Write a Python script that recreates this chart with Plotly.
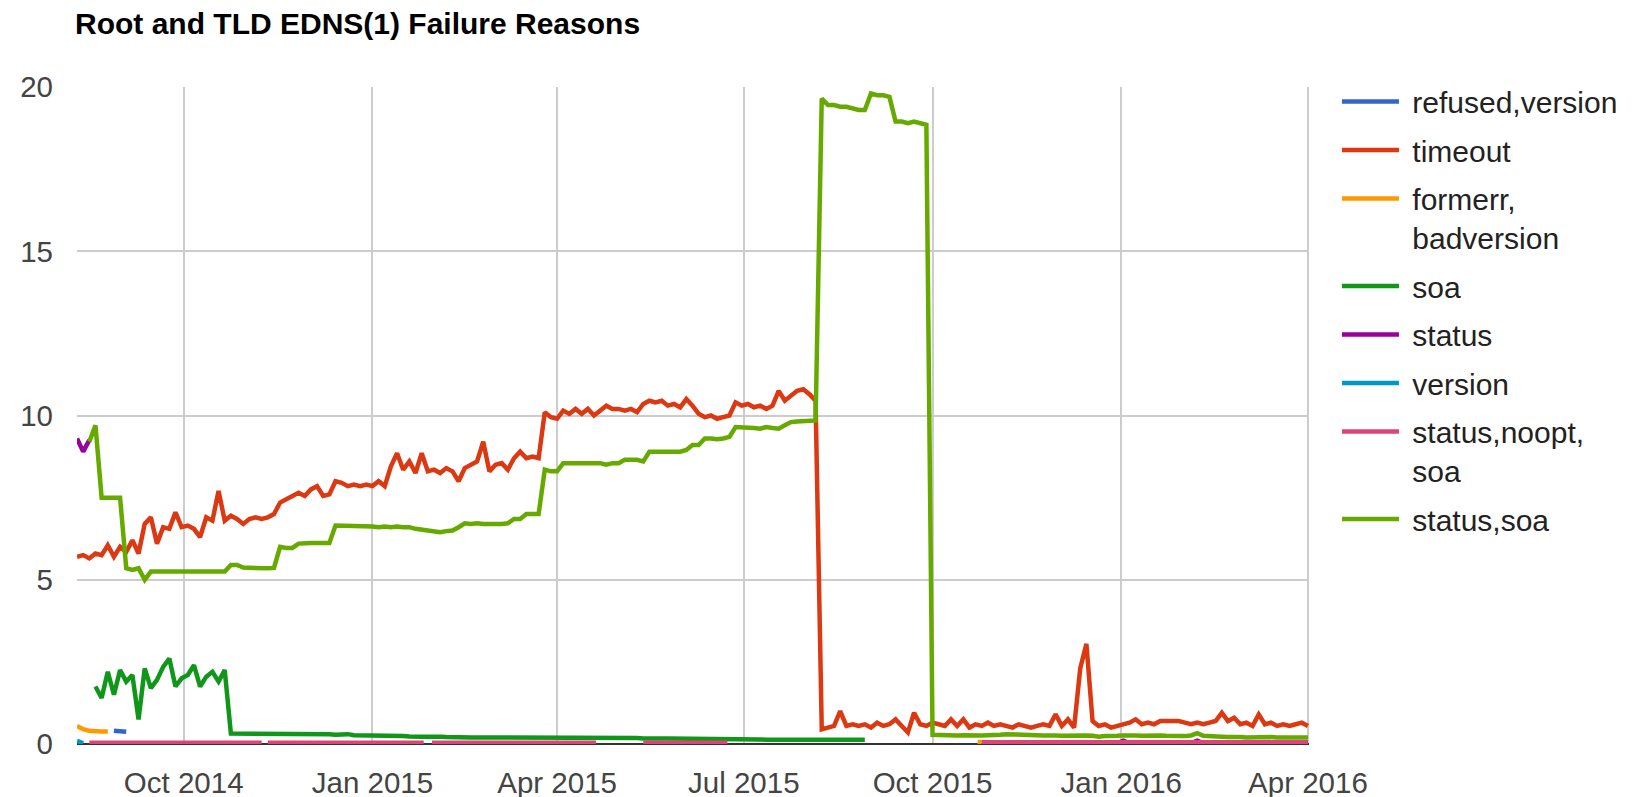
import pandas as pd
import plotly.graph_objects as go

# ---------------- data ----------------
BASE_DATE = "2014-08-10"      # first sample
STEP_DAYS = 3                 # samples every 3 days
RANGE_END = "2016-04-01 12:00"

# sample index k -> date = BASE_DATE + 3*k days
timeout_start = 0
timeout = [
    5.7, 5.75, 5.65, 5.8, 5.75, 6.05, 5.7, 6.0, 5.85, 6.2,
    5.8, 6.7, 6.9, 6.1, 6.6, 6.55, 7.05, 6.6, 6.65, 6.55,
    6.3, 6.9, 6.8, 7.7, 6.8, 6.95, 6.85, 6.7, 6.85, 6.9,
    6.85, 6.9, 7.0, 7.35, 7.45, 7.55, 7.65, 7.55, 7.75, 7.85,
    7.55, 7.6, 8.0, 7.95, 7.85, 7.9, 7.85, 7.9, 7.85, 8.0,
    7.85, 8.45, 8.85, 8.35, 8.6, 8.25, 8.85, 8.3, 8.35, 8.25,
    8.4, 8.3, 8.0, 8.4, 8.5, 8.6, 9.2, 8.3, 8.5, 8.55,
    8.35, 8.7, 8.9, 8.7, 8.75, 8.7, 10.1, 9.95, 9.9, 10.15,
    10.05, 10.2, 10.05, 10.2, 10.0, 10.15, 10.3, 10.2, 10.2, 10.15,
    10.2, 10.1, 10.35, 10.45, 10.4, 10.45, 10.3, 10.35, 10.25, 10.5,
    10.3, 10.05, 9.95, 10.0, 9.9, 9.95, 10.0, 10.4, 10.3, 10.35,
    10.25, 10.3, 10.2, 10.3, 10.75, 10.45, 10.6, 10.75, 10.8, 10.65,
    10.45, 0.45, 0.5, 0.55, 1.0, 0.55, 0.6, 0.55, 0.6, 0.5,
    0.65, 0.55, 0.6, 0.75, 0.55, 0.35, 0.95, 0.6, 0.55, 0.65,
    0.6, 0.55, 0.75, 0.55, 0.75, 0.5, 0.6, 0.55, 0.65, 0.55,
    0.6, 0.55, 0.5, 0.6, 0.55, 0.5, 0.55, 0.6, 0.55, 0.9,
    0.55, 0.75, 0.5, 2.3, 3.05, 0.7, 0.55, 0.6, 0.5, 0.55,
    0.6, 0.65, 0.75, 0.6, 0.65, 0.6, 0.7, 0.7, 0.72, 0.7,
    0.65, 0.6, 0.65, 0.6, 0.65, 0.7, 0.95, 0.7, 0.8, 0.6,
    0.65, 0.55, 0.9, 0.6, 0.65, 0.55, 0.6, 0.55, 0.6, 0.65, 0.55,
]

status_soa_start = 2
status_soa = [
    9.2, 9.7, 7.5, 7.5, 7.48, 7.5, 5.35, 5.3, 5.35, 5.0, 5.25,
    5.25, 5.24, 5.25, 5.23, 5.24, 5.25, 5.24, 5.23, 5.24, 5.22, 5.23, 5.25,
    5.45, 5.45,
    5.37, 5.36, 5.35, 5.36, 5.35, 5.36,
    6.0, 5.97, 5.97,
    6.1, 6.12, 6.12, 6.12, 6.11, 6.12,
    6.65, 6.65, 6.63, 6.65, 6.62, 6.63, 6.62, 6.6, 6.62, 6.6, 6.62, 6.6, 6.6,
    6.55, 6.52, 6.48, 6.47, 6.45, 6.48, 6.5,
    6.6, 6.72, 6.7, 6.72, 6.7, 6.7, 6.68, 6.7, 6.72,
    6.85, 6.85, 7.0, 7.0, 7.0,
    8.35, 8.3, 8.3,
    8.55, 8.55, 8.55, 8.53, 8.55, 8.52, 8.55, 8.5, 8.55, 8.55,
    8.65, 8.65, 8.65, 8.6,
    8.9, 8.9, 8.9, 8.88, 8.9, 8.9, 8.95,
    9.1, 9.1,
    9.3, 9.3, 9.28, 9.3, 9.35,
    9.65, 9.65, 9.63, 9.62, 9.6, 9.65, 9.62, 9.6,
    9.7, 9.8, 9.82, 9.82, 9.85, 9.85,
    19.65, 19.45, 19.45, 19.4, 19.4, 19.35, 19.3, 19.3,
    19.8, 19.75, 19.75, 19.7,
    18.95, 18.95, 18.9, 18.95, 18.9, 18.85,
    0.28, 0.27, 0.26, 0.27, 0.26, 0.27, 0.26, 0.25, 0.26, 0.27, 0.26, 0.28, 0.3, 0.3,
    0.28, 0.27, 0.28, 0.27, 0.26, 0.27, 0.26, 0.25, 0.26, 0.25, 0.27, 0.26, 0.25, 0.22,
    0.24, 0.26, 0.25, 0.26,
    0.27, 0.26, 0.25, 0.26, 0.25, 0.26, 0.25, 0.24, 0.25, 0.24, 0.26, 0.33, 0.25, 0.23, 0.22,
    0.22, 0.21, 0.22, 0.21, 0.2, 0.21, 0.2, 0.2, 0.21, 0.2, 0.2, 0.2, 0.21, 0.2, 0.2,
]

soa_start = 3
soa = [
    1.75, 1.4, 2.2, 1.5, 2.25, 1.9, 2.1, 0.75, 2.3, 1.7,
    1.95, 2.35, 2.6, 1.75, 2.0, 2.1, 2.4, 1.75, 2.05, 2.2,
    1.9, 2.25, 0.32,
    0.32, 0.3, 0.3, 0.31, 0.29, 0.3, 0.3, 0.32, 0.3, 0.29,
    0.3, 0.31, 0.3, 0.29, 0.3, 0.3, 0.28, 0.29, 0.3, 0.27,
    0.27, 0.26, 0.26, 0.25, 0.26, 0.24, 0.25, 0.24, 0.23, 0.24,
    0.22, 0.22, 0.23, 0.22, 0.21,
    0.2, 0.2, 0.19, 0.2, 0.2, 0.2, 0.19, 0.2, 0.2, 0.2,
    0.2, 0.2, 0.21, 0.2, 0.2, 0.2, 0.19, 0.2, 0.2, 0.2,
    0.19, 0.19, 0.19, 0.18, 0.19, 0.18, 0.18, 0.18, 0.18, 0.18,
    0.18, 0.17, 0.18, 0.17, 0.17, 0.17, 0.17, 0.17, 0.17, 0.16,
    0.16, 0.16, 0.16, 0.15, 0.15, 0.15, 0.14, 0.14, 0.14, 0.14,
    0.14, 0.13, 0.13, 0.13, 0.13, 0.13, 0.13, 0.13, 0.13, 0.13,
    0.13, 0.13, 0.13, 0.13, 0.13, 0.13, 0.13, 0.13,
]

status_start = 0
status = [9.3, 8.9, 9.25]
status_late_start = 148
status_late = [
    0.02, 0.02, 0.03, 0.02, 0.02, 0.03, 0.02, 0.02, 0.02, 0.03,
    0.02, 0.02, 0.03, 0.02, 0.02, 0.02, 0.03, 0.02, 0.02, 0.03,
    0.02, 0.02, 0.1, 0.02, 0.02, 0.03, 0.02, 0.02, 0.02, 0.03,
    0.02, 0.02, 0.03, 0.02, 0.1, 0.02, 0.02, 0.03, 0.02, 0.02,
    0.02, 0.03, 0.02, 0.02, 0.03, 0.02, 0.02, 0.02, 0.03, 0.02,
    0.02, 0.02, 0.02,
]

version_start = 0
version = [0.1, 0.02]

formerr_start = 0
formerr = [0.55, 0.45, 0.4, 0.38, 0.38, 0.38]
formerr_late_dates = ["2015-10-23", "2015-10-25"]
formerr_late = [0.06, 0.05]

refused_start = 6
refused_version = [0.4, 0.4, 0.37]

noopt_dates = ["2014-08-16", "2014-11-08", None,
               "2014-11-11", "2015-01-26", None,
               "2015-01-30", "2015-04-20", None,
               "2015-05-13", "2015-06-23", None,
               "2015-10-25", "2015-12-10", "2016-02-01", "2016-04-01"]
noopt_values = [0.04, 0.04, None,
                0.04, 0.04, None,
                0.04, 0.04, None,
                0.04, 0.04, None,
                0.05, 0.05, 0.05, 0.05]

# ---------------- helpers ----------------
base = pd.Timestamp(BASE_DATE)


def grid_dates(start_k, n):
    return list(pd.date_range(base + pd.Timedelta(days=STEP_DAYS * start_k),
                              periods=n, freq=f"{STEP_DAYS}D"))


def joined(*parts):
    xs, ys = [], []
    for i, (x, y) in enumerate(parts):
        if i:
            xs.append(None)
            ys.append(None)
        xs += list(x)
        ys += list(y)
    return xs, ys


FONT = "Arial, 'Liberation Sans', sans-serif"
NB = "\u00a0"

series = [
    ("refused,version", "#3366cc", joined((grid_dates(refused_start, len(refused_version)), refused_version))),
    ("timeout", "#dc3912", joined((grid_dates(timeout_start, len(timeout)), timeout))),
    ("formerr,<br>" + NB + "badversion", "#ff9900",
     joined((grid_dates(formerr_start, len(formerr)), formerr),
            (pd.to_datetime(formerr_late_dates), formerr_late))),
    ("soa", "#109618", joined((grid_dates(soa_start, len(soa)), soa))),
    ("status", "#990099",
     joined((grid_dates(status_start, len(status)), status),
            (grid_dates(status_late_start, len(status_late)), status_late))),
    ("version", "#0099c6", joined((grid_dates(version_start, len(version)), version))),
    ("status,noopt,<br>" + NB + "soa", "#dd4477",
     ([pd.Timestamp(d) if d else None for d in noopt_dates], noopt_values)),
    ("status,soa", "#66aa00", joined((grid_dates(status_soa_start, len(status_soa)), status_soa))),
]

fig = go.Figure()
for i, (name, color, (xs, ys)) in enumerate(series):
    fig.add_trace(go.Scatter(
        x=xs, y=ys, mode="lines", name=NB + name,
        legendgroup=f"g{i}",
        line=dict(color=color, width=4.5),
        connectgaps=False, hoverinfo="skip",
    ))

W, H = 1632, 797
fig.update_layout(
    width=W, height=H,
    margin=dict(l=77, r=323, t=87, b=53, autoexpand=False),
    paper_bgcolor="white", plot_bgcolor="white",
    font=dict(family=FONT, color="#444"),
    title=dict(text="Root and TLD EDNS(1) Failure Reasons",
               font=dict(family=FONT, size=30, color="#000", weight="bold"),
               x=75 / W, xanchor="left", xref="container",
               y=1 - 23 / H, yanchor="middle", yref="container"),
    showlegend=True,
    legend=dict(x=1.0227, xanchor="left", y=1.0174, yanchor="top",
                font=dict(family=FONT, size=30, color="#222"),
                itemwidth=57, valign="top", tracegroupgap=6.5,
                maxheight=760,
                bgcolor="rgba(0,0,0,0)", borderwidth=0,
                itemclick=False, itemdoubleclick=False),
    xaxis=dict(type="date",
               range=[base, pd.Timestamp(RANGE_END)],
               tick0="2014-10-01", dtick="M3", tickformat="%b %Y",
               showgrid=True, gridcolor="#cccccc", gridwidth=2,
               ticks="", showline=False, zeroline=False,
               tickfont=dict(family=FONT, size=29.5, color="#444"),
               ticklabelstandoff=18),
    yaxis=dict(range=[0, 20], dtick=5, tick0=0,
               showgrid=True, gridcolor="#cccccc", gridwidth=2,
               zeroline=True, zerolinecolor="#333333", zerolinewidth=2,
               ticks="", showline=False,
               tickfont=dict(family=FONT, size=29.5, color="#444"),
               ticklabelstandoff=23),
)

# remove the browser's default 8px page margin so the figure fills the window
fig.write_html("out.html",
               config={"displayModeBar": False},
               post_script="document.body.style.margin='0px';"
                           "document.body.style.overflow='hidden';")
